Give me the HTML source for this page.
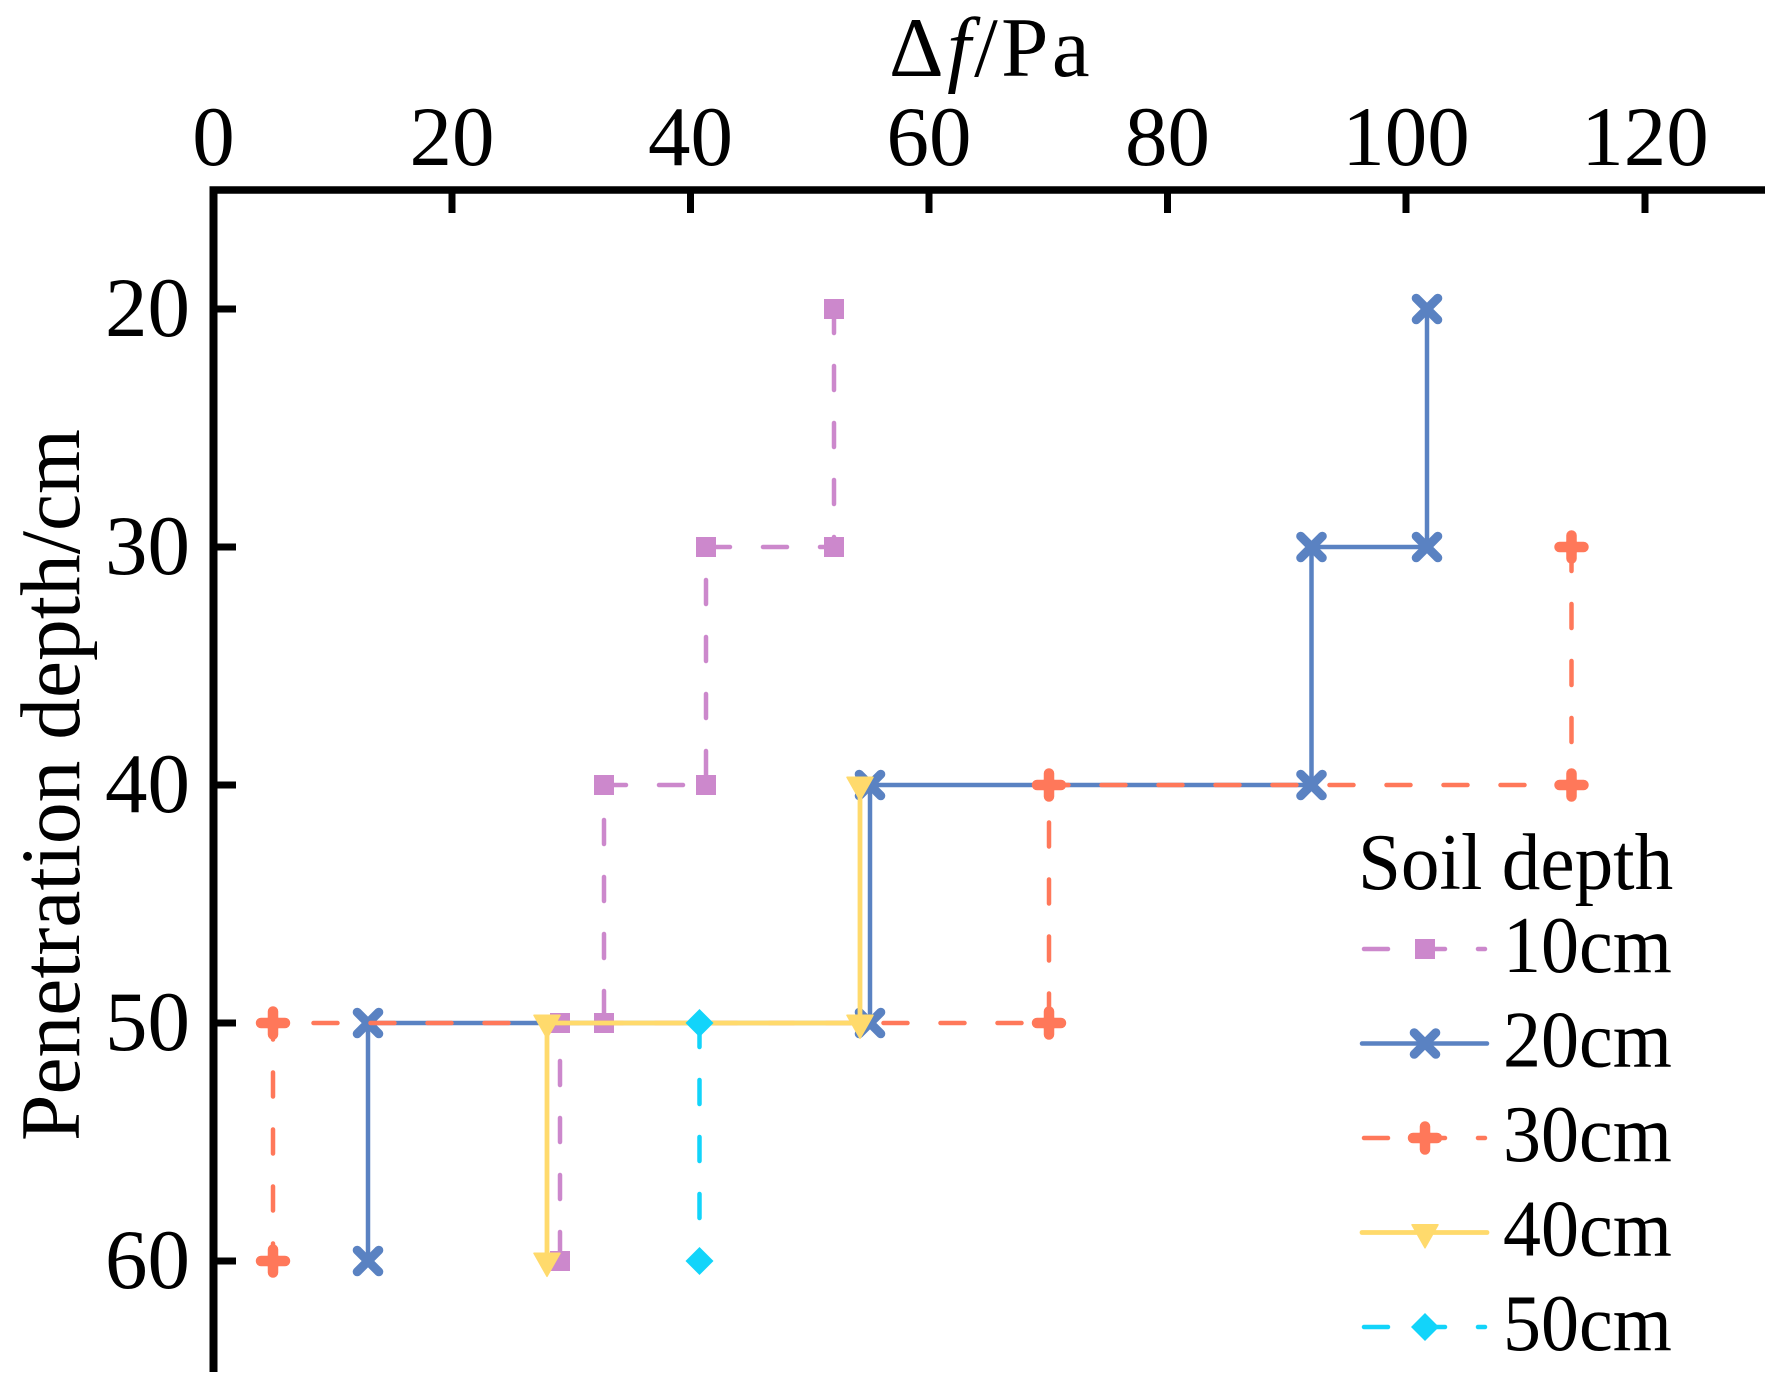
<!DOCTYPE html>
<html>
<head>
<meta charset="utf-8">
<style>
html,body{margin:0;padding:0;background:#fff;}
svg{display:block;}
text{font-family:"Liberation Serif","Times New Roman",serif;fill:#000;}
</style>
</head>
<body>
<svg width="1776" height="1391" viewBox="0 0 1776 1391" xmlns="http://www.w3.org/2000/svg">
<defs>
  <g id="msq"><rect x="-10" y="-10" width="20" height="20" fill="#CC88CC"/></g>
  <g id="mx"><path d="M-10.8,-10.8 L10.8,10.8 M-10.8,10.8 L10.8,-10.8" stroke="#5A82C2" stroke-width="9" stroke-linecap="round" fill="none"/></g>
  <g id="mplus"><path d="M-12,0 H12 M0,-11.5 V11.5" stroke="#FF785A" stroke-width="10.5" stroke-linecap="round" fill="none"/><circle r="7.5" fill="#FF785A"/></g>
  <g id="mtri"><polygon points="-13,-7.7 13,-7.7 0,15.3" fill="#FFDA6C" stroke="#FFDA6C" stroke-width="1.5" stroke-linejoin="round"/></g>
  <g id="mdia"><polygon points="0,-14 14,0 0,14 -14,0" fill="#12D4FA"/></g>
</defs>

<!-- Axis title -->
<text x="991" y="76" font-size="85" text-anchor="middle" letter-spacing="3.4">Δ<tspan font-style="italic">f</tspan>/Pa</text>

<!-- X tick labels -->
<g font-size="85" text-anchor="middle">
  <text x="213.5" y="165">0</text>
  <text x="452" y="165">20</text>
  <text x="690.5" y="165">40</text>
  <text x="929" y="165">60</text>
  <text x="1167.5" y="165">80</text>
  <text x="1406" y="165">100</text>
  <text x="1645" y="165">120</text>
</g>

<!-- Y tick labels -->
<g font-size="85" text-anchor="end">
  <text x="190" y="336">20</text>
  <text x="190" y="574">30</text>
  <text x="190" y="812">40</text>
  <text x="190" y="1050">50</text>
  <text x="190" y="1288">60</text>
</g>

<!-- Y axis label -->
<text transform="translate(79,785) rotate(-90)" font-size="85" text-anchor="middle" textLength="712" lengthAdjust="spacingAndGlyphs">Penetration depth/cm</text>

<!-- Axes -->
<g stroke="#000" fill="none">
  <line x1="209.5" y1="190" x2="1765" y2="190" stroke-width="7.5"/>
  <line x1="213.5" y1="186.5" x2="213.5" y2="1372" stroke-width="8"/>
  <g stroke-width="7">
    <line x1="452" y1="190" x2="452" y2="213"/>
    <line x1="690.5" y1="190" x2="690.5" y2="213"/>
    <line x1="929" y1="190" x2="929" y2="213"/>
    <line x1="1167.5" y1="190" x2="1167.5" y2="213"/>
    <line x1="1406" y1="190" x2="1406" y2="213"/>
    <line x1="1645" y1="190" x2="1645" y2="213"/>
  </g>
  <g stroke-width="7">
    <line x1="213.5" y1="309" x2="236" y2="309"/>
    <line x1="213.5" y1="547" x2="236" y2="547"/>
    <line x1="213.5" y1="785" x2="236" y2="785"/>
    <line x1="213.5" y1="1023" x2="236" y2="1023"/>
    <line x1="213.5" y1="1261" x2="236" y2="1261"/>
  </g>
</g>

<!-- Series 10cm -->
<path d="M834,309 V547 H706 V785 H604 V1023 H560 V1261" fill="none" stroke="#CC88CC" stroke-width="4.5" stroke-linecap="round" stroke-linejoin="round" stroke-dasharray="24 33"/>
<use href="#msq" x="834" y="309"/>
<use href="#msq" x="834" y="547"/>
<use href="#msq" x="706" y="547"/>
<use href="#msq" x="706" y="785"/>
<use href="#msq" x="604" y="785"/>
<use href="#msq" x="604" y="1023"/>
<use href="#msq" x="560" y="1023"/>
<use href="#msq" x="560" y="1261"/>

<!-- Series 20cm -->
<path d="M1427,309 V547 H1311.5 V785 H870 V1023 H368 V1261" fill="none" stroke="#5A82C2" stroke-width="4.5" stroke-linejoin="miter"/>
<use href="#mx" x="1427" y="309"/>
<use href="#mx" x="1427" y="547"/>
<use href="#mx" x="1311.5" y="547"/>
<use href="#mx" x="1311.5" y="785"/>
<use href="#mx" x="870" y="785"/>
<use href="#mx" x="870" y="1023"/>
<use href="#mx" x="368" y="1023"/>
<use href="#mx" x="368" y="1261"/>

<!-- Series 30cm -->
<path d="M1571.5,547 V785 H1049 V1023 H273 V1261" fill="none" stroke="#FF785A" stroke-width="4.5" stroke-linecap="round" stroke-linejoin="round" stroke-dasharray="24 33"/>
<use href="#mplus" x="1571.5" y="547"/>
<use href="#mplus" x="1571.5" y="785"/>
<use href="#mplus" x="1049" y="785"/>
<use href="#mplus" x="1049" y="1023"/>
<use href="#mplus" x="273" y="1023"/>
<use href="#mplus" x="273" y="1261"/>

<!-- Series 40cm -->
<path d="M860,785 V1023 H547 V1261" fill="none" stroke="#FFDA6C" stroke-width="4.8"/>
<use href="#mtri" x="860" y="785"/>
<use href="#mtri" x="860" y="1023"/>
<use href="#mtri" x="547" y="1023"/>
<use href="#mtri" x="547" y="1261"/>

<!-- Series 50cm -->
<path d="M699.5,1023 V1261" fill="none" stroke="#12D4FA" stroke-width="4.5" stroke-linecap="round" stroke-dasharray="24 33"/>
<use href="#mdia" x="699.5" y="1023"/>
<use href="#mdia" x="699.5" y="1261"/>

<!-- Legend -->
<text transform="translate(1358,889) scale(0.965,1)" font-size="80">Soil depth</text>
<g font-size="80">
  <text transform="translate(1503,972) scale(0.95,1)">10cm</text>
  <text transform="translate(1503,1066.5) scale(0.95,1)">20cm</text>
  <text transform="translate(1503,1161) scale(0.95,1)">30cm</text>
  <text transform="translate(1503,1255.5) scale(0.95,1)">40cm</text>
  <text transform="translate(1503,1350) scale(0.95,1)">50cm</text>
</g>
<path d="M1364,949 H1485" stroke="#CC88CC" stroke-width="4.5" stroke-linecap="round" stroke-dasharray="24 33" fill="none"/>
<use href="#msq" x="1425" y="949"/>
<path d="M1362,1043.5 H1487" stroke="#5A82C2" stroke-width="4.5" stroke-linecap="round" fill="none"/>
<use href="#mx" x="1425" y="1043.5"/>
<path d="M1364,1138 H1485" stroke="#FF785A" stroke-width="4.5" stroke-linecap="round" stroke-dasharray="24 33" fill="none"/>
<use href="#mplus" x="1425" y="1138"/>
<path d="M1362,1232.5 H1487" stroke="#FFDA6C" stroke-width="4.8" stroke-linecap="round" fill="none"/>
<use href="#mtri" x="1425" y="1232.5"/>
<path d="M1364,1327 H1485" stroke="#12D4FA" stroke-width="4.5" stroke-linecap="round" stroke-dasharray="24 33" fill="none"/>
<use href="#mdia" x="1425" y="1327"/>
</svg>
</body>
</html>
